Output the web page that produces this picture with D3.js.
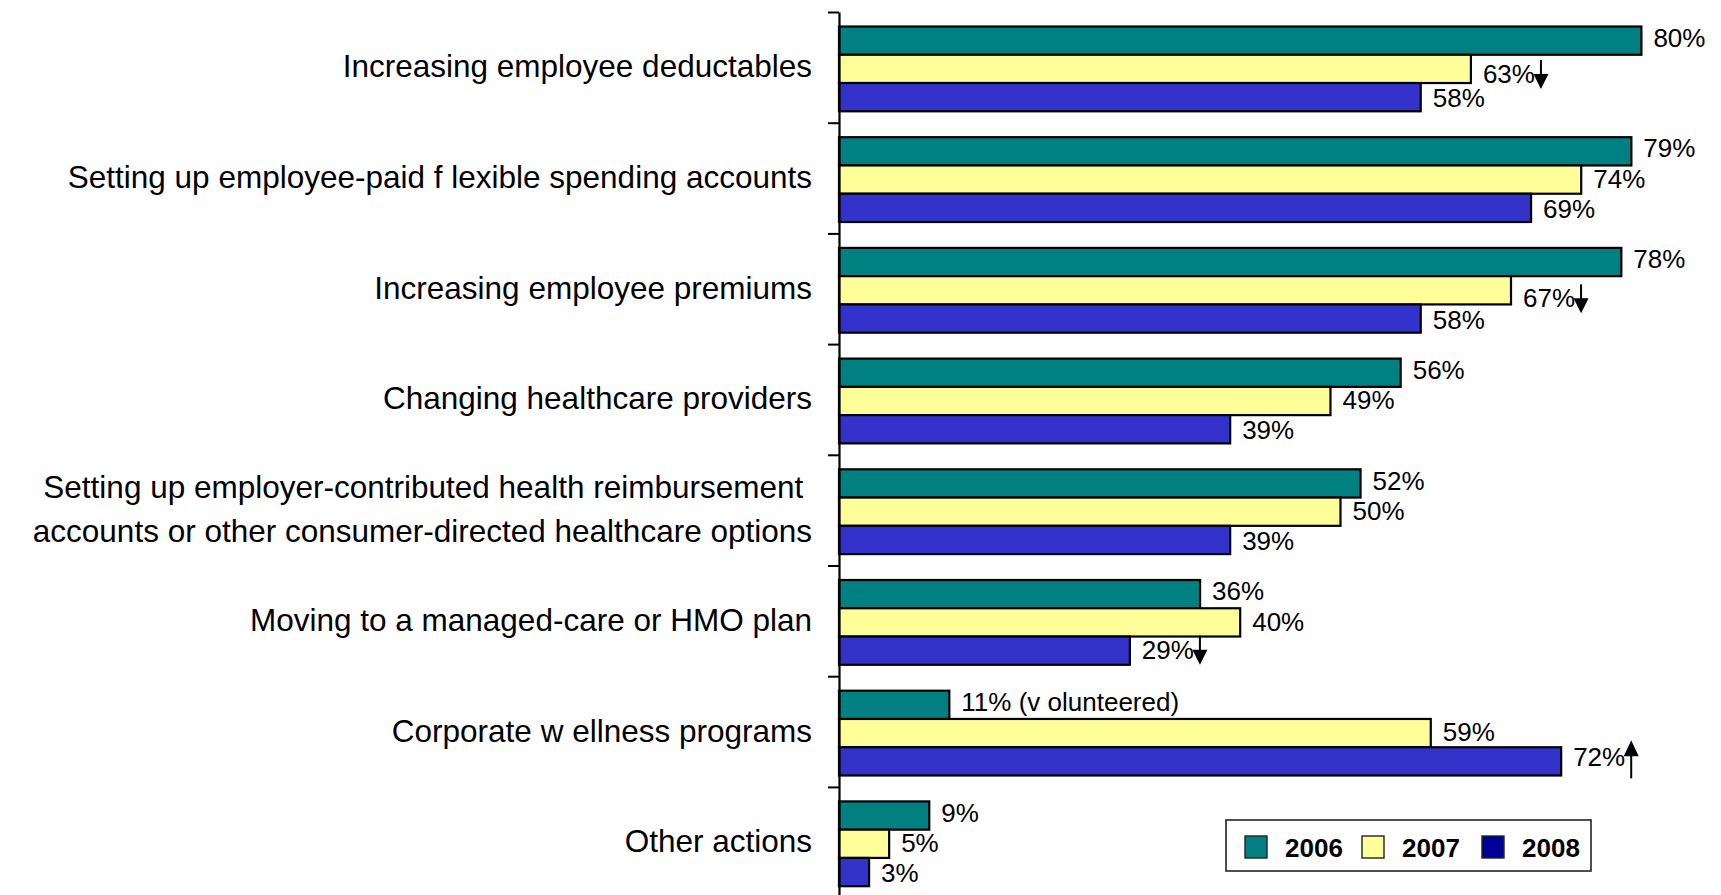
<!DOCTYPE html>
<html>
<head>
<meta charset="utf-8">
<script src="https://cdn.jsdelivr.net/npm/d3@7/dist/d3.min.js"></script>
<style>
  html, body { margin: 0; padding: 0; background: #ffffff; }
  svg { display: block; }
  text { font-family: "Liberation Sans", Arial, Helvetica, sans-serif; fill: #000; white-space: pre; }
</style>
</head>
<body>
<svg id="chart" width="1721" height="895"></svg>
<script>
// Cost-control actions taken by employers, share of respondents per year
const categories = [
  "Increasing employee deductables",
  "Setting up employee-paid f lexible spending accounts",
  "Increasing employee premiums",
  "Changing healthcare providers",
  "Setting up employer-contributed health reimbursement \naccounts or other consumer-directed healthcare options",
  "Moving to a managed-care or HMO plan",
  "Corporate w ellness programs",
  "Other actions"
];
const years = ["2006", "2007", "2008"];
const values2006 = [80, 79, 78, 56, 52, 36, 11, 9];
const values2007 = [63, 74, 67, 49, 50, 40, 59, 5];
const values2008 = [58, 69, 58, 39, 39, 29, 72, 3];
const labelSuffix2006 = ["", "", "", "", "", "", " (v olunteered)", ""];
// Trend markers drawn after selected value labels
const trendArrows = [
  { cat: 0, year: "2007", dir: "down" },
  { cat: 2, year: "2007", dir: "down" },
  { cat: 5, year: "2008", dir: "down" },
  { cat: 6, year: "2008", dir: "up" }
];

const seriesValues = { "2006": values2006, "2007": values2007, "2008": values2008 };
const barColors = { "2006": "#008080", "2007": "#FFFF99", "2008": "#3333CC" };
const legendColors = { "2006": "#008080", "2007": "#FFFF99", "2008": "#000099" };

const svg = d3.select("#chart");

const axisX = 839;
const x = d3.scaleLinear().domain([0, 100]).range([axisX, axisX + 1003]);
const yTop = 12, yBottom = 12 + 110.7 * categories.length;
const y = d3.scaleBand().domain(d3.range(categories.length)).range([yTop, yBottom]).padding(0);
const yInner = d3.scaleBand().domain(years).range([14.5, 99.3]).padding(0);
const labelOffsetY = { "2006": -3, "2007": -1, "2008": 1 };
// labels that carry a trend arrow sit a little lower in the layout
const arrowLabelShift = { "0_2007": 5, "2_2007": 8, "5_2008": -1, "6_2008": -4 };

// Bars
const groups = svg.append("g").selectAll("g")
  .data(categories)
  .join("g")
  .attr("transform", (d, i) => `translate(0,${y(i)})`);

groups.each(function (cat, ci) {
  const g = d3.select(this);
  years.forEach(yr => {
    const v = seriesValues[yr][ci];
    g.append("rect")
      .attr("x", x(0))
      .attr("y", yInner(yr))
      .attr("width", x(v) - x(0))
      .attr("height", yInner.bandwidth())
      .attr("fill", barColors[yr])
      .attr("stroke", "#000")
      .attr("stroke-width", 2.2);
  });
});

// Value labels
const labelNodes = {};
const labelCenters = {};
groups.each(function (cat, ci) {
  const g = d3.select(this);
  years.forEach(yr => {
    const v = seriesValues[yr][ci];
    const suffix = yr === "2006" ? labelSuffix2006[ci] : "";
    const key = ci + "_" + yr;
    const shift = key in arrowLabelShift ? arrowLabelShift[key] : labelOffsetY[yr];
    const cy = yInner(yr) + yInner.bandwidth() / 2 + shift;
    const t = g.append("text")
      .attr("x", x(v) + 12)
      .attr("y", cy)
      .attr("dy", "0.35em")
      .style("font-size", "26px")
      .text(v + "%" + suffix);
    labelNodes[key] = t;
    labelCenters[key] = y(ci) + cy;
  });
});

// Trend arrows
trendArrows.forEach(a => {
  const key = a.cat + "_" + a.year;
  const bb = labelNodes[key].node().getBBox();
  const ax = bb.x + bb.width + 6;
  const lc = labelCenters[key];
  const g = svg.append("g");
  if (a.dir === "down") {
    const y0 = lc - 14, y1 = lc + 15;
    g.append("line").attr("x1", ax).attr("x2", ax).attr("y1", y0).attr("y2", y1 - 12)
      .attr("stroke", "#000").attr("stroke-width", 2);
    g.append("path").attr("d", `M${ax - 7.5},${y1 - 15}L${ax + 7.5},${y1 - 15}L${ax},${y1}Z`).attr("fill", "#000");
  } else {
    const y0 = lc - 17, y1 = lc + 21;
    g.append("line").attr("x1", ax).attr("x2", ax).attr("y1", y0 + 12).attr("y2", y1)
      .attr("stroke", "#000").attr("stroke-width", 2);
    g.append("path").attr("d", `M${ax - 7.5},${y0 + 16}L${ax + 7.5},${y0 + 16}L${ax},${y0}Z`).attr("fill", "#000");
  }
});

// Category axis with ticks at band boundaries
const boundary = d3.scaleLinear().domain([0, categories.length]).range([yTop, yBottom]);
const axisG = svg.append("g")
  .attr("transform", `translate(${axisX},0)`)
  .call(d3.axisLeft(boundary).ticks(categories.length).tickFormat("").tickSizeInner(11).tickSizeOuter(0));
axisG.select(".domain").attr("stroke", "#000").attr("stroke-width", 2.2);
axisG.selectAll(".tick line").attr("stroke", "#000").attr("stroke-width", 2);

// Category labels
svg.append("g").selectAll("text")
  .data(categories)
  .join("text")
  .attr("text-anchor", "end")
  .attr("x", 812)
  .style("font-size", "31.5px")
  .each(function (d, i) {
    const lines = d.split("\n");
    const cy = y(i) + y.bandwidth() / 2 - 1;
    const lh = 44;
    lines.forEach((ln, k) => {
      d3.select(this).append("tspan")
        .attr("x", 812)
        .attr("y", cy + (k - (lines.length - 1) / 2) * lh)
        .attr("dy", "0.35em")
        .text(ln);
    });
  });

// Legend
const legend = svg.append("g");
legend.append("rect")
  .attr("x", 1226).attr("y", 820).attr("width", 365).attr("height", 51)
  .attr("fill", "#fff").attr("stroke", "#222").attr("stroke-width", 1.6);
const legendX = { "2006": 1245, "2007": 1362, "2008": 1482 };
years.forEach(yr => {
  legend.append("rect")
    .attr("x", legendX[yr]).attr("y", 836).attr("width", 22).attr("height", 22)
    .attr("fill", legendColors[yr]).attr("stroke", "#222").attr("stroke-width", 1.4);
  legend.append("text")
    .attr("x", legendX[yr] + 40).attr("y", 857)
    .style("font-size", "26px").style("font-weight", "bold")
    .text(yr);
});
</script>
</body>
</html>
